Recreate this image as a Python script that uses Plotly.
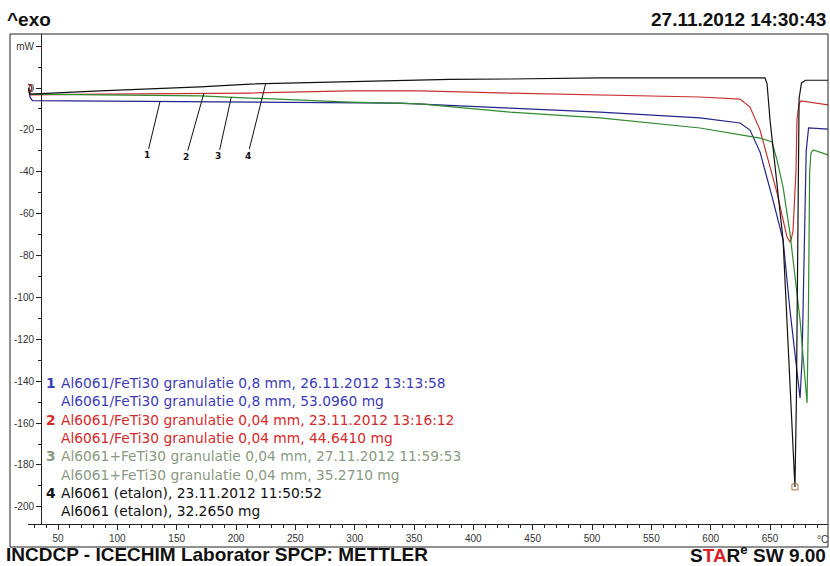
import numpy as np
import plotly.graph_objects as go

# DSC curves: temperature (°C) and heat flow (mW)
t1 = [25.0, 26.5, 28.5, 85.4, 211.8, 338.0, 430.9, 506.7, 591.0, 624.7, 633.1, 641.6,
      652.5, 661.0, 666.8, 675.3, 677.0, 680.5, 682.5, 698.9]
q1 = [0.0, -4.5, -6.0, -6.2, -6.7, -7.2, -9.6, -11.5, -14.3, -16.7, -20.1, -30.6,
      -53.5, -72.6, -106.0, -148.0, -130.0, -30.0, -19.0, -19.6]

t2 = [25.0, 26.8, 85.4, 169.7, 211.8, 296.0, 355.0, 430.9, 506.7, 591.0, 624.7, 633.1,
      641.6, 655.9, 664.3, 666.8, 667.7, 669.4, 671.9, 672.7, 674.4, 676.1, 698.9]
q2 = [0.0, -3.3, -2.9, -2.4, -2.4, -1.4, -1.4, -2.4, -3.3, -4.3, -5.3, -9.1,
      -20.1, -50.1, -71.2, -73.5, -72.6, -68.3, -39.2, -15.3, -7.6, -6.2, -8.1]

t3 = [25.0, 26.8, 85.4, 169.7, 211.8, 296.0, 355.0, 430.9, 506.7, 591.0, 641.6, 651.7,
      655.9, 661.0, 666.8, 675.3, 681.2, 682.3, 683.4, 684.5, 686.5, 698.9]
q3 = [0.0, -2.9, -3.3, -3.8, -4.8, -6.7, -7.6, -11.5, -14.3, -19.1, -23.9, -25.8,
      -34.4, -47.3, -69.2, -110.8, -150.4, -110.0, -40.0, -31.0, -29.6, -32.0]

t4 = [25.0, 26.4, 85.4, 127.5, 169.7, 211.8, 253.9, 296.0, 338.0, 380.0, 430.9, 506.7,
      591.0, 645.8, 647.5, 650.0, 661.0, 671.0, 672.2, 673.5, 674.5, 676.5, 680.0, 698.9]
q4 = [0.0, -2.9, -1.4, -0.5, 0.5, 1.9, 2.4, 3.1, 3.6, 4.1, 4.3, 4.8,
      4.8, 4.8, 2.0, -15.3, -72.6, -190.5, -150.0, -40.0, -5.0, 2.4, 3.7, 3.7]

curve_colors = ["#24248a", "#c83030", "#2e8b2e", "#111111"]
curve_ids = ["1", "2", "3", "4"]
label_temps = [136.0, 173.0, 196.0, 225.0]

legend_lines = [
    ("1", "Al6061/FeTi30 granulatie 0,8 mm, 26.11.2012 13:13:58", "#3c3cb8"),
    ("", "Al6061/FeTi30 granulatie 0,8 mm, 53.0960 mg", "#3c3cb8"),
    ("2", "Al6061/FeTi30 granulatie 0,04 mm, 23.11.2012 13:16:12", "#d42a2a"),
    ("", "Al6061/FeTi30 granulatie 0,04 mm, 44.6410 mg", "#d42a2a"),
    ("3", "Al6061+FeTi30 granulatie 0,04 mm, 27.11.2012 11:59:53", "#8a9a82"),
    ("", "Al6061+FeTi30 granulatie 0,04 mm, 35.2710 mg", "#8a9a82"),
    ("4", "Al6061 (etalon), 23.11.2012 11:50:52", "#111111"),
    ("", "Al6061 (etalon), 32.2650 mg", "#111111"),
]

y_tick_vals = [20, 0, -20, -40, -60, -80, -100, -120, -140, -160, -180, -200]
y_tick_text = ["mW"] + [str(v) for v in y_tick_vals[1:]]

W, H = 830, 566
L, R, T, B = 28, 2, 34, 42
PW, PH = W - L - R, H - T - B


def px(xp):
    return (xp - L) / PW


def py(yp):
    return (H - B - yp) / PH


fig = go.Figure()
series = [(t1, q1), (t2, q2), (t3, q3), (t4, q4)]
for (tx, qy), col, cid in zip(series, curve_colors, curve_ids):
    fig.add_trace(go.Scatter(x=tx, y=qy, mode="lines", name=cid,
                             line=dict(color=col, width=1.2), showlegend=False))

# curve numbers with leader lines
offsets = [(-13, 54), (-18, 64), (-13, 59), (-18, 72)]
annotations = []
for (tx, qy), cid, tl, (ax, ay) in zip(series, curve_ids, label_temps, offsets):
    annotations.append(dict(
        x=tl, y=float(np.interp(tl, tx, qy)), xref="x", yref="y",
        text="<b>%s</b>" % cid, showarrow=True, arrowhead=0, arrowwidth=1,
        arrowcolor="#111", ax=ax, ay=ay, standoff=0,
        font=dict(family="DejaVu Sans", size=9, color="#111")))

# sample legend block
y0 = 383
for i, (num, txt, col) in enumerate(legend_lines):
    yc = y0 + i * 18.3
    if num:
        annotations.append(dict(x=px(44), y=py(yc), xref="paper", yref="paper",
                                xanchor="left", yanchor="middle", showarrow=False,
                                text="<b>%s</b>" % num,
                                font=dict(family="DejaVu Sans", size=13.8, color=col)))
    annotations.append(dict(x=px(59), y=py(yc), xref="paper", yref="paper",
                            xanchor="left", yanchor="middle", showarrow=False, text=txt,
                            font=dict(family="DejaVu Sans", size=13.8, color=col)))

hdr = dict(family="Liberation Sans", size=19, color="#111")
annotations += [
    dict(x=px(5), y=py(19), xref="paper", yref="paper", xanchor="left", yanchor="middle",
         showarrow=False, text="<b>^exo</b>", font=hdr),
    dict(x=px(828), y=py(19), xref="paper", yref="paper", xanchor="right", yanchor="middle",
         showarrow=False, text="<b>27.11.2012 14:30:43</b>", font=hdr),
    dict(x=px(4), y=py(554), xref="paper", yref="paper", xanchor="left", yanchor="middle",
         showarrow=False, text="<b>INCDCP - ICECHIM Laborator SPCP: METTLER</b>", font=hdr),
    dict(x=px(828), y=py(554), xref="paper", yref="paper", xanchor="right", yanchor="middle",
         showarrow=False,
         text="<b>S<span style='color:#d8202a'>TA</span>R<sup>e</sup> SW 9.00</b>", font=hdr),
    dict(x=px(822), y=py(539), xref="paper", yref="paper", xanchor="center", yanchor="middle",
         showarrow=False, text="°C", font=dict(family="Liberation Sans", size=10, color="#333")),
]

# start marker and peak bracket
fig.add_trace(go.Scatter(x=[t2[0]], y=[q2[0]], mode="markers", showlegend=False,
                         marker=dict(symbol="circle-open", size=7, color="#a02020",
                                     line=dict(color="#a02020", width=1.5))))
fig.add_trace(go.Scatter(x=[t4[int(np.argmin(q4))]], y=[min(q4)], mode="markers",
                         showlegend=False,
                         marker=dict(symbol="square-open", size=6, color="#b07040",
                                     line=dict(color="#b07040", width=1))))

fig.update_layout(
    width=W, height=H,
    margin=dict(l=L, r=R, t=T, b=B),
    paper_bgcolor="white", plot_bgcolor="white",
    xaxis=dict(range=[24.72, 698.86], showgrid=False, zeroline=False,
               showline=True, linecolor="#222", linewidth=1,
               tickmode="linear", tick0=0, dtick=50, ticks="outside", ticklen=5,
               tickcolor="#222",
               tickfont=dict(family="Liberation Sans", size=10, color="#333"),
               minor=dict(tickmode="linear", tick0=0, dtick=10, ticks="outside",
                          ticklen=3, tickcolor="#222")),
    yaxis=dict(range=[-208.2, 25.79], anchor="free", position=px(41),
               showgrid=False, zeroline=False,
               showline=True, linecolor="#222", linewidth=1,
               tickmode="array", tickvals=y_tick_vals, ticktext=y_tick_text,
               ticks="outside", ticklen=5, tickcolor="#222",
               tickfont=dict(family="Liberation Sans", size=10, color="#333"),
               minor=dict(tickmode="linear", tick0=0, dtick=10, ticks="outside",
                          ticklen=3, tickcolor="#222")),
    annotations=annotations,
    shapes=[dict(type="rect", xref="paper", yref="paper",
                 x0=px(10), x1=px(828), y0=py(547), y1=py(34),
                 line=dict(color="#222", width=1))],
)

fig.write_html("out.html")
